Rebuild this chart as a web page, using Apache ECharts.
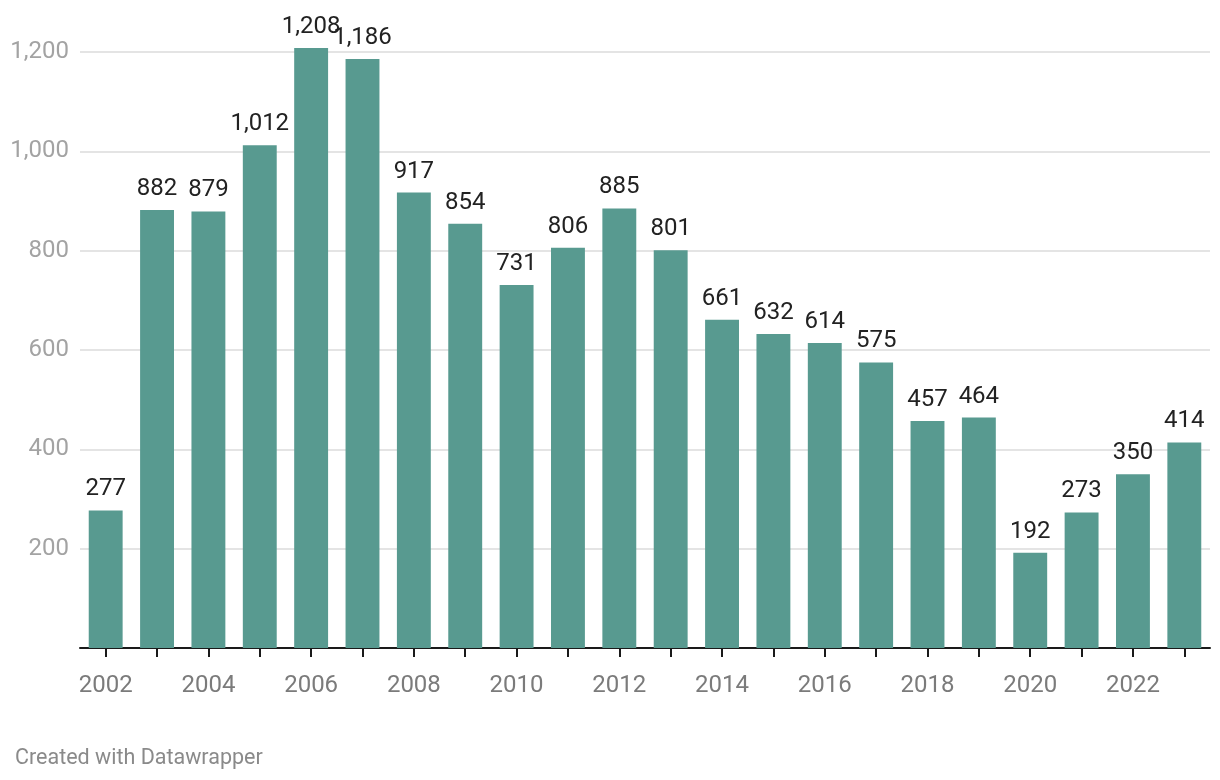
<!DOCTYPE html>
<html>
<head>
<meta charset="utf-8">
<script src="https://cdn.jsdelivr.net/npm/echarts@6/dist/echarts.min.js"></script>
<style>
html,body{margin:0;padding:0;background:#fff;}
#chart{width:1220px;height:780px;}
</style>
</head>
<body>
<div id="chart"></div>
<script>
const years = ['2002','2003','2004','2005','2006','2007','2008','2009','2010','2011','2012','2013','2014','2015','2016','2017','2018','2019','2020','2021','2022','2023'];
const values = [277,882,879,1012,1208,1186,917,854,731,806,885,801,661,632,614,575,457,464,192,273,350,414];
const yTicks = [0,200,400,600,800,1000,1200];

const chart = echarts.init(document.getElementById('chart'), null, {renderer:'canvas'});
chart.setOption({
  animation:false,
  backgroundColor:'#ffffff',
  textStyle:{fontFamily:'Roboto'},
  title:{
    text:'Created with Datawrapper',
    left:10, top:743,
    textStyle:{fontFamily:'Roboto', fontSize:21.5, fontWeight:'normal', color:'#8a8a8a'}
  },
  grid:{left:80, right:10, top:52, bottom:132, containLabel:false},
  xAxis:{
    type:'category',
    data:years,
    axisLine:{lineStyle:{color:'#1a1a1a', width:2}},
    axisTick:{show:true, alignWithLabel:true, interval:0, length:9, lineStyle:{color:'#1a1a1a', width:2}},
    axisLabel:{interval:1, margin:26, fontFamily:'Roboto', fontSize:24, color:'#7b7b7b'}
  },
  yAxis:{
    type:'value',
    min:yTicks[0], max:yTicks[yTicks.length-1], interval:200,
    axisLine:{show:false},
    axisTick:{show:false},
    splitLine:{show:true, lineStyle:{color:'#e4e4e4', width:2}},
    axisLabel:{
      showMinLabel:false, margin:11,
      fontFamily:'Roboto', fontSize:24, color:'#a3a3a3',
      formatter:v=>v.toLocaleString('en-US')
    }
  },
  series:[{
    type:'bar',
    data:values,
    clip:false,
    barCategoryGap:'34%',
    itemStyle:{color:'#589a90'},
    label:{
      show:true, position:'top', distance:9,
      fontFamily:'Roboto', fontSize:24, color:'#222222',
      formatter:p=>p.value.toLocaleString('en-US')
    }
  }]
});
</script>
</body>
</html>
